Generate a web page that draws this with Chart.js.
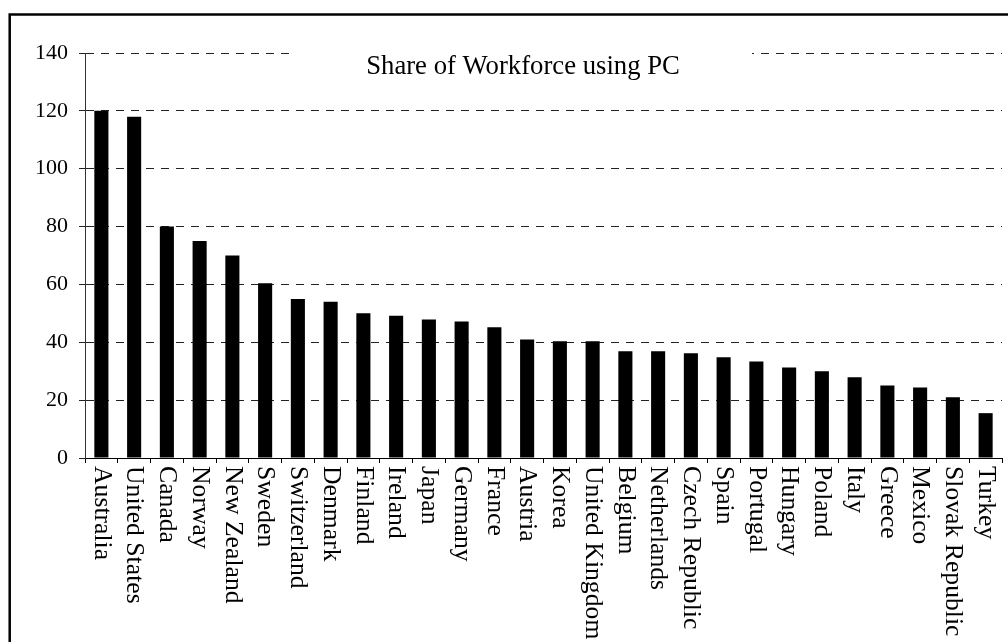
<!DOCTYPE html>
<html>
<head>
<meta charset="utf-8">
<script src="https://cdn.jsdelivr.net/npm/chart.js@4.4.0/dist/chart.umd.min.js"></script>
<style>
    html, body { margin: 0; padding: 0; background: #fff; }
    #wrap { width: 1008px; height: 642px; }
</style>
</head>
<body>
<div id="wrap"><canvas id="pcChart" width="1008" height="642"></canvas></div>
<script>
const countries = [
    "Australia", "United States", "Canada", "Norway", "New Zealand", "Sweden",
    "Switzerland", "Denmark", "Finland", "Ireland", "Japan", "Germany", "France",
    "Austria", "Korea", "United Kingdom", "Belgium", "Netherlands", "Czech Republic",
    "Spain", "Portugal", "Hungary", "Poland", "Italy", "Greece", "Mexico",
    "Slovak Republic", "Turkey"
];
const pcShare = [
    120, 118, 80, 75, 70, 60.4,
    55, 54, 50, 49.2, 47.9, 47.2, 45.2,
    41, 40.4, 40.4, 36.9, 36.9, 36.2,
    34.8, 33.4, 31.3, 30, 27.9, 25.1, 24.4,
    21, 15.5
];
const yTicks = [0, 20, 40, 60, 80, 100, 120, 140];
const chartTitle = "Share of Workforce using PC";

const serif = "'Liberation Serif', 'DejaVu Serif', serif";

// outer frame + title box sitting on top of the grid + rotated country names
const decorations = {
    id: 'decorations',
    beforeDraw(chart) {
        const ctx = chart.ctx;
        ctx.save();
        ctx.fillStyle = '#fff';
        ctx.fillRect(0, 0, chart.width, chart.height);
        ctx.restore();
    },
    afterDraw(chart) {
        const ctx = chart.ctx;
        const xScale = chart.scales.x;

        ctx.save();
        ctx.lineWidth = 2.5;
        ctx.strokeStyle = '#000';
        ctx.strokeRect(9.7, 14.5, 1100, 800);

        // title
        ctx.fillStyle = '#fff';
        ctx.fillRect(293, 38, 459, 42);
        ctx.fillStyle = '#000';
        ctx.font = '26.7px ' + serif;
        ctx.textAlign = 'center';
        ctx.textBaseline = 'alphabetic';
        ctx.fillText(chartTitle, 523, 74);

        // category labels, reading top to bottom
        ctx.font = '25.7px ' + serif;
        ctx.textAlign = 'left';
        ctx.textBaseline = 'middle';
        countries.forEach((name, i) => {
            const x = xScale.getPixelForTick(i);
            ctx.save();
            ctx.translate(x, xScale.top + 8);
            ctx.rotate(Math.PI / 2);
            ctx.fillText(name, 0, 0);
            ctx.restore();
        });
        ctx.restore();
    }
};

const chartConfig = {
    type: 'bar',
    data: {
        labels: countries,
        datasets: [{
            data: pcShare,
            backgroundColor: '#000',
            borderWidth: 0,
            barPercentage: 0.43,
            categoryPercentage: 1
        }]
    },
    options: {
        responsive: false,
        animation: false,
        devicePixelRatio: 1,
        layout: {
            padding: { left: 0, top: 53, right: 6, bottom: 184 }
        },
        plugins: {
            legend: { display: false },
            title: { display: false },
            tooltip: { enabled: false }
        },
        scales: {
            x: {
                offset: true,
                ticks: { display: false },
                grid: {
                    offset: true,
                    drawOnChartArea: false,
                    drawTicks: true,
                    tickLength: 5,
                    tickColor: '#000',
                    color: '#000'
                },
                border: { display: true, color: '#000', width: 1 },
                afterFit(scale) { scale.height = 0; }
            },
            y: {
                min: 0,
                max: 140,
                afterBuildTicks(scale) {
                    scale.ticks = yTicks.map(v => ({ value: v }));
                },
                ticks: {
                    color: '#000',
                    padding: 11,
                    font: { family: serif, size: 22 }
                },
                grid: {
                    color: '#222',
                    lineWidth: 1,
                    tickLength: 6,
                    tickColor: '#222',
                    tickBorderDash: []
                },
                border: { display: true, color: '#333', width: 1, dash: [8, 7] },
                afterFit(scale) { scale.width = 85; }
            }
        }
    },
    plugins: [decorations]
};

const pcChart = new Chart(document.getElementById('pcChart').getContext('2d'), chartConfig);
</script>
</body>
</html>
